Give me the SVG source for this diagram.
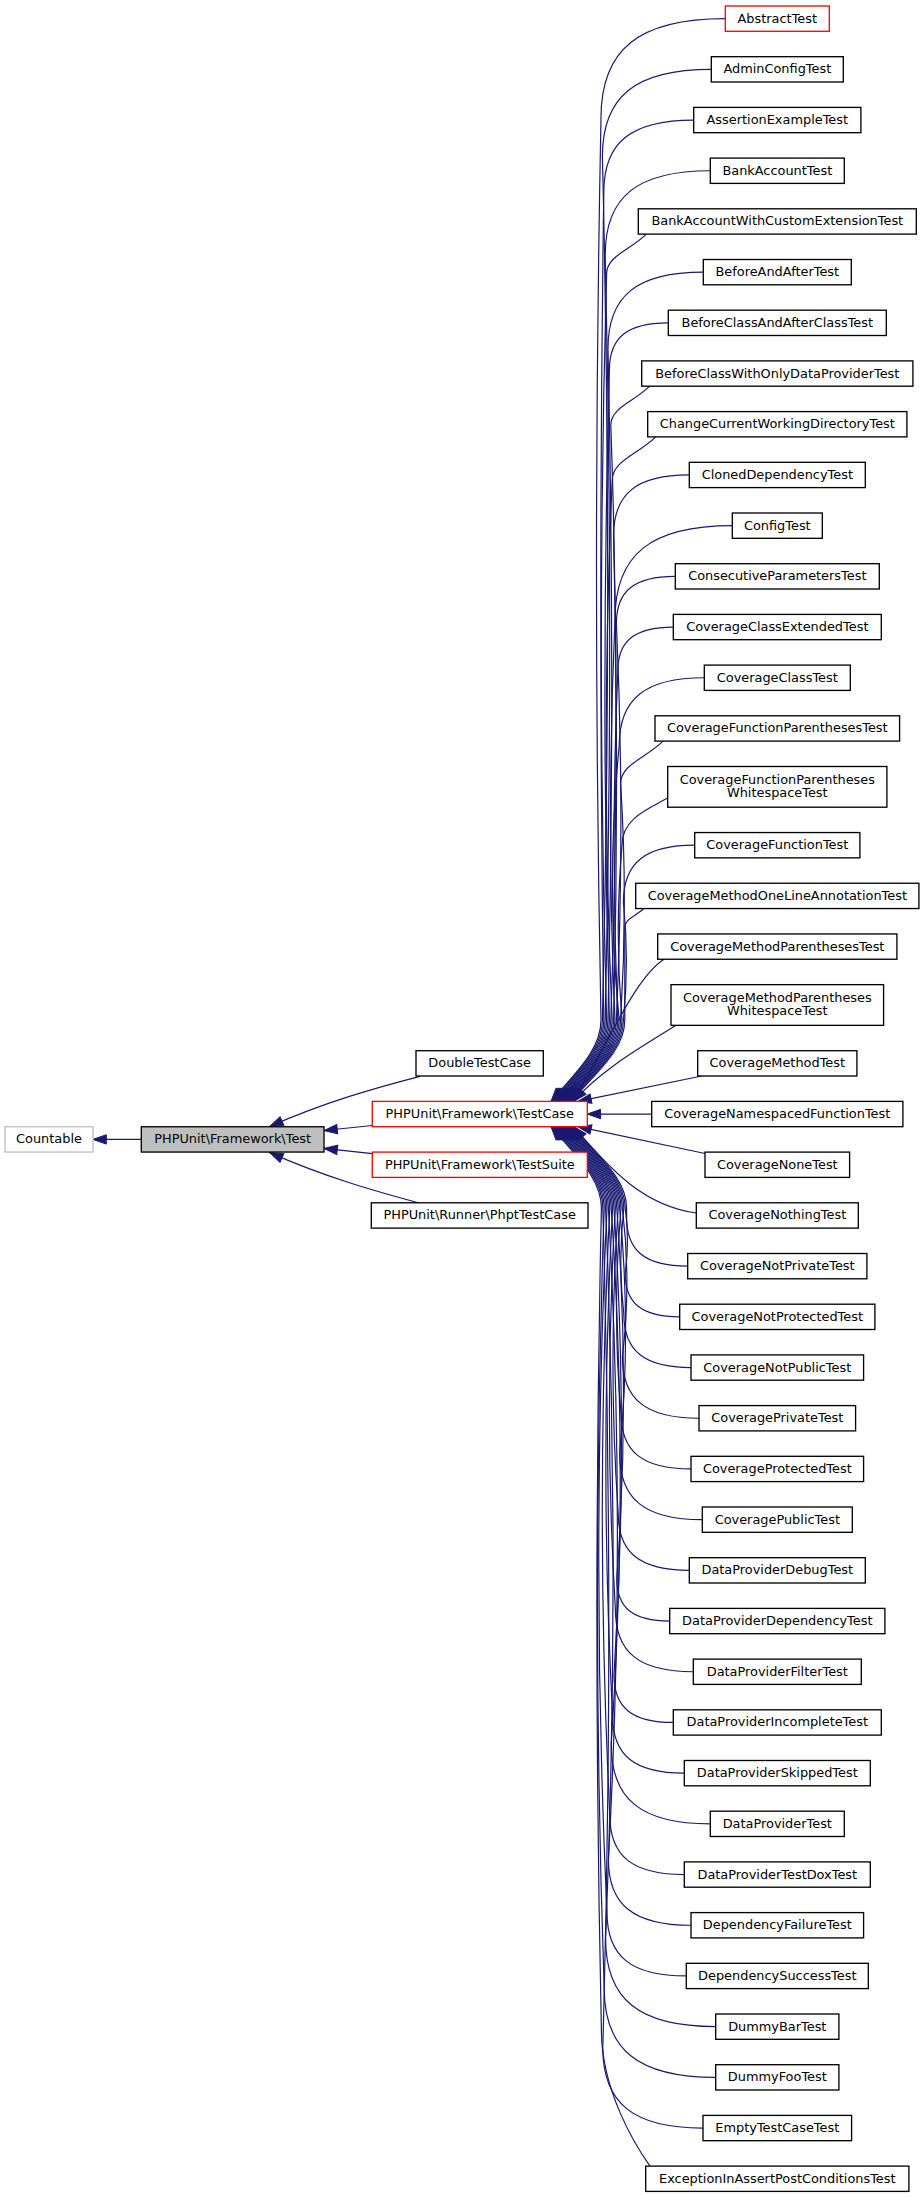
<svg xmlns="http://www.w3.org/2000/svg" width="924" height="2197" viewBox="0 0 924 2197">
<style>
.n{fill:#fff;stroke:#000;stroke-width:1.33}
.r{stroke:#ff0000}
.g{stroke:#bfbfbf}
.f{fill:#bfbfbf}
.e{fill:none;stroke:#191970;stroke-width:1.2;marker-end:url(#ah)}
text{font-family:"DejaVu Sans","Noto Sans",sans-serif;font-size:12.9px;text-anchor:middle;fill:#000}
</style>
<defs>
<marker id="ah" markerUnits="userSpaceOnUse" markerWidth="15" markerHeight="12" viewBox="0 -6 15 12" refX="13.3" refY="0" orient="auto" overflow="visible">
<path d="M0,-4.7 L13.3,0 L0,4.7 Z" fill="#191970" stroke="#191970" stroke-width="1"/>
</marker>
</defs>
<rect width="924" height="2197" fill="#fff"/>
<g id="connectors">
<path class="e" d="M141.3,1139.4 L93,1139.4"/>
<path class="e" d="M420,1076.3 C375,1088 325,1102 269.8,1126.4"/>
<path class="e" d="M372.3,1125.5 L324,1130.5"/>
<path class="e" d="M372.3,1153.6 L324,1148.4"/>
<path class="e" d="M419.3,1203 C375,1191 325,1177 269.8,1152.6"/>
<path class="e" d="M725.3,18.65 C638.3,18.65 601,49.75 601,118.05 C595,418.7 595,719.4 601,1020 C601,1050 576,1072 551,1101.4"/>
<path class="e" d="M711.3,69.35 C635.1,69.35 602.4,96.55 602.4,156.45 C609.4,444.3 609.4,732.15 602.4,1020 C602.4,1050 577.2,1072 552.2,1101.4"/>
<path class="e" d="M693.7,120.05 C630.8,120.05 603.8,142.55 603.8,191.95 C599.8,468 599.8,744 603.8,1020 C603.8,1050 578.4,1072 553.4,1101.4"/>
<path class="e" d="M710.3,170.75 C636.7,170.75 605.2,197.05 605.2,254.85 C611.2,509.9 611.2,765 605.2,1020 C605.2,1050 579.6,1072 554.6,1101.4"/>
<path class="e" d="M646.3,234.1 C630.4,250 606.6,255.9 606.6,273.8 C599.6,522.5 599.6,771.3 606.6,1020 C606.6,1050 580.8,1072 555.8,1101.4"/>
<path class="e" d="M703.3,272.15 C636.6,272.15 608,295.95 608,348.35 C613,572.2 613,796.1 608,1020 C608,1050 582,1072 557,1101.4"/>
<path class="e" d="M668.3,322.85 C627.1,322.85 609.4,337.55 609.4,369.95 C603.4,586.6 603.4,803.3 609.4,1020 C609.4,1050 583.2,1072 558.2,1101.4"/>
<path class="e" d="M649.7,386.2 C634.1,401.8 610.8,407.6 610.8,425.1 C617.8,623.4 617.8,821.7 610.8,1020 C610.8,1050 584.4,1072 559.4,1101.4"/>
<path class="e" d="M655.7,436.9 C638.3,454.3 612.2,460.8 612.2,480.4 C604.2,660.3 604.2,840.1 612.2,1020 C612.2,1050 585.6,1072 560.6,1101.4"/>
<path class="e" d="M689.3,474.95 C636.3,474.95 613.6,493.85 613.6,535.55 C617.6,697 617.6,858.5 613.6,1020 C613.6,1050 586.8,1072 561.8,1101.4"/>
<path class="e" d="M732.3,525.65 C650.2,525.65 615,554.95 615,619.45 C609,753 609,886.5 615,1020 C615,1050 588,1072 563,1101.4"/>
<path class="e" d="M675.3,576.35 C634.1,576.35 616.4,591.05 616.4,623.45 C622.4,755.6 622.4,887.8 616.4,1020 C616.4,1050 589.2,1072 564.2,1101.4"/>
<path class="e" d="M673.3,627.05 C634.4,627.05 617.8,640.95 617.8,671.45 C612.8,787.6 612.8,903.8 617.8,1020 C617.8,1050 590.4,1072 565.4,1101.4"/>
<path class="e" d="M704.3,677.75 C644.7,677.75 619.2,699.05 619.2,745.85 C610.2,837.2 610.2,928.6 619.2,1020 C619.2,1050 591.6,1072 566.6,1101.4"/>
<path class="e" d="M663,741.1 C646,758.1 620.6,764.4 620.6,783.5 C625.6,862.3 625.6,941.2 620.6,1020 C620.6,1050 592.8,1072 567.8,1101.4"/>
<path class="e" d="M667.7,798 C650,808 622,818 622,845 C617,903.3 617,961.7 622,1020 C622,1050 594,1072 569,1101.4"/>
<path class="e" d="M694.7,845.2 C644.8,845.2 623.4,863 623.4,902.2 C627.4,941.5 627.4,980.7 623.4,1020 C623.4,1050 595.2,1072 570.2,1101.4"/>
<path class="e" d="M643.7,908.55 C636.1,916.1 624.8,918.9 624.8,927.45 L624.8,1020 C624.8,1050 596.4,1072 571.4,1101.4"/>
<path class="e" d="M664,959.3 C635,978 610,1040 572.6,1101.4"/>
<path class="e" d="M676,1025.35 C645,1045 600,1070 573.8,1101.4"/>
<path class="e" d="M701.7,1076 L578,1101.4"/>
<path class="e" d="M651.7,1114.05 L587.3,1114.05"/>
<path class="e" d="M705,1153.5 L578,1126.7"/>
<path class="e" d="M696.3,1213 C645,1206 612,1172 573.8,1126.7"/>
<path class="e" d="M687.7,1266.15 C644.9,1266.15 626.6,1250.85 626.6,1217.25 L626.6,1208 C626.6,1178 597.6,1156.1 572.6,1126.7"/>
<path class="e" d="M679.7,1316.85 C641.5,1316.85 625.2,1303.25 625.2,1273.25 C628.2,1251.5 628.2,1229.75 625.2,1208 C625.2,1178 596.4,1156.1 571.4,1126.7"/>
<path class="e" d="M691,1367.55 C644,1367.55 623.8,1350.75 623.8,1313.75 C619.8,1278.5 619.8,1243.25 623.8,1208 C623.8,1178 595.2,1156.1 570.2,1126.7"/>
<path class="e" d="M699,1418.25 C645.4,1418.25 622.4,1399.1 622.4,1356.95 C628.4,1307.3 628.4,1257.65 622.4,1208 C622.4,1178 594,1156.1 569,1126.7"/>
<path class="e" d="M691,1468.95 C642,1468.95 621,1451.45 621,1412.95 C615,1344.6 615,1276.3 621,1208 C621,1178 592.8,1156.1 567.8,1126.7"/>
<path class="e" d="M702.3,1519.65 C644.4,1519.65 619.6,1498.95 619.6,1453.45 C627.6,1371.6 627.6,1289.8 619.6,1208 C619.6,1178 591.6,1156.1 566.6,1126.7"/>
<path class="e" d="M689.3,1570.35 C639.5,1570.35 618.2,1552.55 618.2,1513.45 C611.2,1411.6 611.2,1309.8 618.2,1208 C618.2,1178 590.4,1156.1 565.4,1126.7"/>
<path class="e" d="M669.7,1621.05 C632.7,1621.05 616.8,1607.85 616.8,1578.75 C625.8,1455.2 625.8,1331.6 616.8,1208 C616.8,1178 589.2,1156.1 564.2,1126.7"/>
<path class="e" d="M693.3,1671.75 C638.8,1671.75 615.4,1652.25 615.4,1609.45 C607.4,1475.6 607.4,1341.8 615.4,1208 C615.4,1178 588,1156.1 563,1126.7"/>
<path class="e" d="M673.3,1722.45 C631.8,1722.45 614,1707.65 614,1675.05 C624,1519.4 624,1363.7 614,1208 C614,1178 586.8,1156.1 561.8,1126.7"/>
<path class="e" d="M684.3,1773.15 C634.1,1773.15 612.6,1755.25 612.6,1715.75 C603.6,1546.5 603.6,1377.25 612.6,1208 C612.6,1178 585.6,1156.1 560.6,1126.7"/>
<path class="e" d="M710.3,1823.85 C640.9,1823.85 611.2,1799.05 611.2,1744.55 C623.2,1565.7 623.2,1386.85 611.2,1208 C611.2,1178 584.4,1156.1 559.4,1126.7"/>
<path class="e" d="M684.3,1874.55 C632.1,1874.55 609.8,1855.95 609.8,1814.95 C599.8,1612.6 599.8,1410.3 609.8,1208 C609.8,1178 583.2,1156.1 558.2,1126.7"/>
<path class="e" d="M691,1925.25 C633.2,1925.25 608.4,1904.6 608.4,1859.15 C620.4,1642.1 620.4,1425.1 608.4,1208 C608.4,1178 582,1156.1 557,1126.7"/>
<path class="e" d="M686.3,1975.95 C630.8,1975.95 607,1956.15 607,1912.55 C596,1677.7 596,1442.8 607,1208 C607,1178 580.8,1156.1 555.8,1126.7"/>
<path class="e" d="M715.7,2026.65 C638.6,2026.65 605.6,1999.15 605.6,1938.55 C615.6,1695 615.6,1451.5 605.6,1208 C605.6,1178 579.6,1156.1 554.6,1126.7"/>
<path class="e" d="M715.7,2077.35 C637.7,2077.35 604.2,2049.45 604.2,1988.15 C595.2,1728.1 595.2,1468.1 604.2,1208 C604.2,1178 578.4,1156.1 553.4,1126.7"/>
<path class="e" d="M703,2128.05 C632.9,2128.05 602.8,2103.05 602.8,2047.85 C610.8,1767.9 610.8,1488 602.8,1208 C602.8,1178 577.2,1156.1 552.2,1126.7"/>
<path class="e" d="M650,2166.1 C635,2145 601.4,2090 601.4,2030 C595.4,1756 595.4,1482 601.4,1208 C601.4,1178 576,1156.1 551,1126.7"/>
</g>
<g id="Countable"><rect class="n g" x="5" y="1126.75" width="88" height="25.3"/><text x="49" y="1143.4">Countable</text></g>
<g id="Test"><rect class="n f" x="141.3" y="1126.75" width="182.7" height="25.3"/><text x="232.65" y="1143.4">PHPUnit\Framework\Test</text></g>
<g id="DoubleTestCase"><rect class="n" x="416" y="1050.7" width="127.3" height="25.3"/><text x="479.65" y="1067.35">DoubleTestCase</text></g>
<g id="TestCase"><rect class="n r" x="372.3" y="1101.4" width="215" height="25.3"/><text x="479.8" y="1118.05">PHPUnit\Framework\TestCase</text></g>
<g id="TestSuite"><rect class="n r" x="372.3" y="1152.1" width="215" height="25.3"/><text x="479.8" y="1168.75">PHPUnit\Framework\TestSuite</text></g>
<g id="PhptTestCase"><rect class="n" x="371.3" y="1202.8" width="216.7" height="25.3"/><text x="479.65" y="1219.45">PHPUnit\Runner\PhptTestCase</text></g>
<g id="AbstractTest"><rect class="n r" x="725.3" y="6" width="104" height="25.3"/><text x="777.3" y="22.65">AbstractTest</text></g>
<g id="AdminConfigTest"><rect class="n" x="711.3" y="56.7" width="132" height="25.3"/><text x="777.3" y="73.35">AdminConfigTest</text></g>
<g id="AssertionExampleTest"><rect class="n" x="693.7" y="107.4" width="167.2" height="25.3"/><text x="777.3" y="124.05">AssertionExampleTest</text></g>
<g id="BankAccountTest"><rect class="n" x="710.3" y="158.1" width="134" height="25.3"/><text x="777.3" y="174.75">BankAccountTest</text></g>
<g id="BankAccountWithCustomExtensionTest"><rect class="n" x="638.3" y="208.8" width="278" height="25.3"/><text x="777.3" y="225.45">BankAccountWithCustomExtensionTest</text></g>
<g id="BeforeAndAfterTest"><rect class="n" x="703.3" y="259.5" width="148" height="25.3"/><text x="777.3" y="276.15">BeforeAndAfterTest</text></g>
<g id="BeforeClassAndAfterClassTest"><rect class="n" x="668.3" y="310.2" width="218" height="25.3"/><text x="777.3" y="326.85">BeforeClassAndAfterClassTest</text></g>
<g id="BeforeClassWithOnlyDataProviderTest"><rect class="n" x="641.7" y="360.9" width="271.2" height="25.3"/><text x="777.3" y="377.55">BeforeClassWithOnlyDataProviderTest</text></g>
<g id="ChangeCurrentWorkingDirectoryTest"><rect class="n" x="647.7" y="411.6" width="259.2" height="25.3"/><text x="777.3" y="428.25">ChangeCurrentWorkingDirectoryTest</text></g>
<g id="ClonedDependencyTest"><rect class="n" x="689.3" y="462.3" width="176" height="25.3"/><text x="777.3" y="478.95">ClonedDependencyTest</text></g>
<g id="ConfigTest"><rect class="n" x="732.3" y="513" width="90" height="25.3"/><text x="777.3" y="529.65">ConfigTest</text></g>
<g id="ConsecutiveParametersTest"><rect class="n" x="675.3" y="563.7" width="204" height="25.3"/><text x="777.3" y="580.35">ConsecutiveParametersTest</text></g>
<g id="CoverageClassExtendedTest"><rect class="n" x="673.3" y="614.4" width="208" height="25.3"/><text x="777.3" y="631.05">CoverageClassExtendedTest</text></g>
<g id="CoverageClassTest"><rect class="n" x="704.3" y="665.1" width="146" height="25.3"/><text x="777.3" y="681.75">CoverageClassTest</text></g>
<g id="CoverageFunctionParenthesesTest"><rect class="n" x="655" y="715.8" width="244.6" height="25.3"/><text x="777.3" y="732.45">CoverageFunctionParenthesesTest</text></g>
<g id="CoverageFunctionParenthesesWhitespaceTest"><rect class="n" x="667.7" y="766.5" width="219.2" height="40.7"/><text x="777.3" y="783.8">CoverageFunctionParentheses</text><text x="777.3" y="797.3">WhitespaceTest</text></g>
<g id="CoverageFunctionTest"><rect class="n" x="694.7" y="832.55" width="165.2" height="25.3"/><text x="777.3" y="849.2">CoverageFunctionTest</text></g>
<g id="CoverageMethodOneLineAnnotationTest"><rect class="n" x="635.7" y="883.25" width="283.2" height="25.3"/><text x="777.3" y="899.9">CoverageMethodOneLineAnnotationTest</text></g>
<g id="CoverageMethodParenthesesTest"><rect class="n" x="657.7" y="933.95" width="239.2" height="25.3"/><text x="777.3" y="950.6">CoverageMethodParenthesesTest</text></g>
<g id="CoverageMethodParenthesesWhitespaceTest"><rect class="n" x="671" y="984.65" width="212.6" height="40.7"/><text x="777.3" y="1001.95">CoverageMethodParentheses</text><text x="777.3" y="1015.45">WhitespaceTest</text></g>
<g id="CoverageMethodTest"><rect class="n" x="697.7" y="1050.7" width="159.2" height="25.3"/><text x="777.3" y="1067.35">CoverageMethodTest</text></g>
<g id="CoverageNamespacedFunctionTest"><rect class="n" x="651.7" y="1101.4" width="251.2" height="25.3"/><text x="777.3" y="1118.05">CoverageNamespacedFunctionTest</text></g>
<g id="CoverageNoneTest"><rect class="n" x="705" y="1152.1" width="144.6" height="25.3"/><text x="777.3" y="1168.75">CoverageNoneTest</text></g>
<g id="CoverageNothingTest"><rect class="n" x="696.3" y="1202.8" width="162" height="25.3"/><text x="777.3" y="1219.45">CoverageNothingTest</text></g>
<g id="CoverageNotPrivateTest"><rect class="n" x="687.7" y="1253.5" width="179.2" height="25.3"/><text x="777.3" y="1270.15">CoverageNotPrivateTest</text></g>
<g id="CoverageNotProtectedTest"><rect class="n" x="679.7" y="1304.2" width="195.2" height="25.3"/><text x="777.3" y="1320.85">CoverageNotProtectedTest</text></g>
<g id="CoverageNotPublicTest"><rect class="n" x="691" y="1354.9" width="172.6" height="25.3"/><text x="777.3" y="1371.55">CoverageNotPublicTest</text></g>
<g id="CoveragePrivateTest"><rect class="n" x="699" y="1405.6" width="156.6" height="25.3"/><text x="777.3" y="1422.25">CoveragePrivateTest</text></g>
<g id="CoverageProtectedTest"><rect class="n" x="691" y="1456.3" width="172.6" height="25.3"/><text x="777.3" y="1472.95">CoverageProtectedTest</text></g>
<g id="CoveragePublicTest"><rect class="n" x="702.3" y="1507" width="150" height="25.3"/><text x="777.3" y="1523.65">CoveragePublicTest</text></g>
<g id="DataProviderDebugTest"><rect class="n" x="689.3" y="1557.7" width="176" height="25.3"/><text x="777.3" y="1574.35">DataProviderDebugTest</text></g>
<g id="DataProviderDependencyTest"><rect class="n" x="669.7" y="1608.4" width="215.2" height="25.3"/><text x="777.3" y="1625.05">DataProviderDependencyTest</text></g>
<g id="DataProviderFilterTest"><rect class="n" x="693.3" y="1659.1" width="168" height="25.3"/><text x="777.3" y="1675.75">DataProviderFilterTest</text></g>
<g id="DataProviderIncompleteTest"><rect class="n" x="673.3" y="1709.8" width="208" height="25.3"/><text x="777.3" y="1726.45">DataProviderIncompleteTest</text></g>
<g id="DataProviderSkippedTest"><rect class="n" x="684.3" y="1760.5" width="186" height="25.3"/><text x="777.3" y="1777.15">DataProviderSkippedTest</text></g>
<g id="DataProviderTest"><rect class="n" x="710.3" y="1811.2" width="134" height="25.3"/><text x="777.3" y="1827.85">DataProviderTest</text></g>
<g id="DataProviderTestDoxTest"><rect class="n" x="684.3" y="1861.9" width="186" height="25.3"/><text x="777.3" y="1878.55">DataProviderTestDoxTest</text></g>
<g id="DependencyFailureTest"><rect class="n" x="691" y="1912.6" width="172.6" height="25.3"/><text x="777.3" y="1929.25">DependencyFailureTest</text></g>
<g id="DependencySuccessTest"><rect class="n" x="686.3" y="1963.3" width="182" height="25.3"/><text x="777.3" y="1979.95">DependencySuccessTest</text></g>
<g id="DummyBarTest"><rect class="n" x="715.7" y="2014" width="123.2" height="25.3"/><text x="777.3" y="2030.65">DummyBarTest</text></g>
<g id="DummyFooTest"><rect class="n" x="715.7" y="2064.7" width="123.2" height="25.3"/><text x="777.3" y="2081.35">DummyFooTest</text></g>
<g id="EmptyTestCaseTest"><rect class="n" x="703" y="2115.4" width="148.6" height="25.3"/><text x="777.3" y="2132.05">EmptyTestCaseTest</text></g>
<g id="ExceptionInAssertPostConditionsTest"><rect class="n" x="645.7" y="2166.1" width="263.2" height="25.3"/><text x="777.3" y="2182.75">ExceptionInAssertPostConditionsTest</text></g>
</svg>
